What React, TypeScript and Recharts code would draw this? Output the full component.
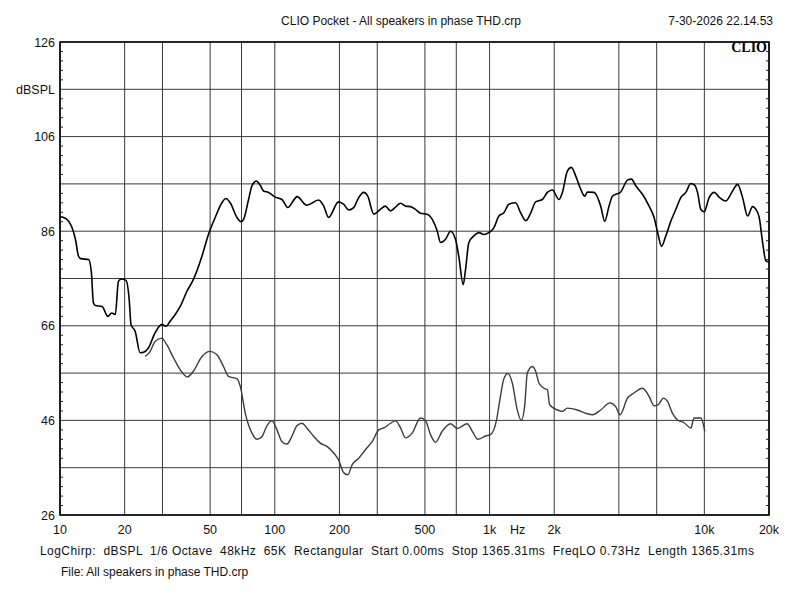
import {
  CartesianGrid,
  Line,
  LineChart,
  ReferenceArea,
  XAxis,
  YAxis,
} from "recharts";

// frequency response (Hz / dBSPL)
const mainFreq = [
  10, 10.7, 11.3, 11.8, 12.2, 12.5, 13.6, 14.0, 14.3, 14.6,
  15.7, 16.7, 17.4, 18.1, 18.7, 19.3, 20.3, 21.0, 21.4, 22.4,
  23.6, 24.5, 25.8, 27.7, 29.8, 31.2, 32.6, 34.4, 36.3, 39.0,
  41.8, 45.8, 49.1, 52.8, 56.7, 59.2, 62.0, 66.7, 69.6, 71.6,
  75.5, 78.3, 82, 85.6, 88.7, 93.6, 100.5, 108, 115, 124,
  127, 141, 160, 169, 178, 198, 209, 221, 233, 246,
  259, 271, 289, 310, 327, 346, 365, 385, 406, 428,
  452, 477, 512, 541, 571, 591, 624, 658, 694, 719,
  754, 773, 801, 845, 892, 941, 992, 1047, 1105, 1166,
  1230, 1322, 1395, 1476, 1553, 1639, 1761, 1858, 1961, 2104,
  2183, 2303, 2404, 2517, 2656, 2773, 2854, 3064, 3292, 3437,
  3599, 3733, 4080, 4385, 4577, 4793, 5151, 5530, 5834, 6090,
  6318, 6615, 6981, 7365, 7771, 8200, 8651, 9030, 9295, 9632,
  9979, 10529, 11109, 11722, 12598, 13537, 14282, 15070, 15900, 16776,
  17385, 18012, 18679, 19353, 20000,
];
const mainLevel = [
  89.1, 88.6, 87.1, 84.3, 80.7, 80.2, 80.0, 77.3, 70.9, 70.3,
  70.1, 68.0, 68.7, 68.4, 75.4, 75.9, 75.6, 71.5, 66.3, 64.8,
  60.3, 60.4, 61.3, 64.5, 66.3, 65.9, 67.0, 68.4, 70.1, 73.3,
  75.8, 80.7, 85.3, 88.9, 92.0, 92.9, 92.0, 88.9, 88.0, 88.5,
  92.7, 95.6, 96.6, 95.7, 94.5, 94.2, 93.2, 92.7, 91.0, 92.9,
  93.3, 91.5, 92.6, 91.3, 88.9, 92.2, 91.7, 90.5, 91.0, 93.1,
  94.2, 93.4, 89.6, 90.6, 91.3, 90.3, 91.1, 91.9, 91.3, 91.2,
  90.6, 89.8, 89.6, 88.5, 86.0, 83.6, 84.3, 86.0, 84.3, 80.7,
  74.7, 77.9, 83.6, 85.0, 85.7, 85.3, 85.7, 86.7, 89.2, 89.9,
  91.7, 92.0, 89.9, 88.2, 89.8, 92.2, 92.7, 94.2, 94.7, 92.7,
  94.2, 98.7, 99.5, 97.7, 94.9, 93.4, 94.3, 94.2, 91.3, 88.1,
  91.3, 93.4, 94.3, 96.8, 97.0, 95.6, 93.8, 91.3, 88.9, 85.3,
  82.8, 85.0, 88.1, 90.6, 93.1, 94.2, 96.1, 95.7, 94.2, 90.6,
  90.1, 93.1, 94.2, 93.2, 92.4, 94.5, 95.9, 93.1, 89.2, 91.2,
  90.6, 88.9, 83.6, 79.7, 79.5,
];

// THD curve
const thdFreq = [
  24.9, 26.3, 27.7, 29.8, 31.4, 33.8, 36.3, 39.2, 41.8, 45.8,
  50.0, 53.8, 57.7, 60.9, 66.7, 69.1, 72.9, 78.3, 82.6, 87.2,
  92.0, 97.0, 102.4, 108, 114, 120, 127, 134, 141, 152,
  163, 175, 188, 198, 209, 219, 229, 246, 264, 284,
  305, 322, 346, 365, 385, 406, 436, 477, 503, 531,
  560, 602, 658, 707, 787, 831, 882, 958, 1011, 1078,
  1117, 1166, 1217, 1276, 1346, 1405, 1456, 1499, 1582, 1639,
  1698, 1791, 1858, 1905, 2069, 2183, 2303, 2564, 2854, 3011,
  3292, 3637, 3867, 4051, 4385, 4706, 5151, 5530, 5834, 6090,
  6454, 6736, 7109, 7501, 8049, 8651, 8962, 9632, 10053,
];
const thdLevel = [
  59.5, 60.6, 62.7, 63.4, 62.0, 59.2, 56.7, 55.2, 56.4, 59.5,
  60.6, 59.9, 57.4, 55.3, 54.8, 53.2, 47.5, 43.3, 42.0, 42.6,
  44.9, 45.9, 44.0, 41.5, 41.0, 42.6, 44.9, 45.4, 44.4, 42.6,
  41.2, 40.5, 39.1, 37.7, 35.0, 34.5, 36.6, 38.0, 39.8, 41.5,
  44.0, 44.4, 45.4, 45.9, 44.4, 42.3, 43.3, 46.5, 46.0, 43.0,
  41.4, 43.7, 45.3, 44.3, 45.3, 43.7, 42.0, 42.7, 43.0, 46.1,
  50.4, 54.8, 55.9, 53.9, 48.2, 46.0, 48.9, 56.0, 57.4, 56.4,
  53.9, 52.8, 52.5, 49.3, 48.2, 47.9, 48.6, 48.2, 47.4, 47.2,
  48.2, 49.7, 48.9, 47.2, 50.7, 51.8, 52.8, 51.1, 49.1, 49.3,
  50.7, 50.0, 47.5, 46.1, 45.5, 44.4, 46.5, 46.5, 43.7,
];

const gridFreqs = [
  10, 20, 30, 40, 50, 60, 70, 80, 90, 100,
  200, 300, 400, 500, 600, 700, 800, 900, 1000,
  2000, 3000, 4000, 5000, 6000, 7000, 8000, 9000, 10000, 20000,
];
const freqLabels: Record<number, string> = {
  10: "10", 20: "20", 50: "50", 100: "100", 200: "200", 500: "500",
  1000: "1k", 2000: "2k", 5000: "5k", 10000: "10k", 20000: "20k",
};
const dbTicks = [26, 36, 46, 56, 66, 76, 86, 96, 106, 116, 126];
const dbLabels: Record<number, string> = {
  126: "126", 116: "dBSPL", 106: "106", 86: "86", 66: "66", 46: "46", 26: "26",
};
const minorDbTicks = [
  28, 30, 32, 34, 38, 40, 42, 44, 48, 50, 52, 54, 58, 60, 62, 64,
  68, 70, 72, 74, 78, 80, 82, 84, 88, 90, 92, 94, 98, 100, 102, 104,
  108, 110, 112, 114, 118, 120, 122, 124,
];

const mainData = mainFreq.map((f, i) => ({ f, db: mainLevel[i] }));
const thdData = thdFreq.map((f, i) => ({ f, db: thdLevel[i] }));

const FONT = "'Liberation Sans', Arial, sans-serif";

const XTick = (props: any) => {
  const { x, y, payload } = props;
  const label = freqLabels[payload.value];
  if (!label) return <g />;
  return (
    <g>
      <text x={x} y={y + 19} textAnchor="middle" fontFamily={FONT} fontSize={12.5} fill="#111">
        {label}
      </text>
      {payload.value === 1000 && (
        <text x={x + 28} y={y + 19} textAnchor="middle" fontFamily={FONT} fontSize={12.5} fill="#111">
          Hz
        </text>
      )}
    </g>
  );
};

const YTick = (props: any) => {
  const { x, y, payload } = props;
  const label = dbLabels[payload.value];
  if (!label) return <g />;
  return (
    <text x={x} y={y + 4.5} textAnchor="end" fontFamily={FONT} fontSize={12.5} fill="#111">
      {label}
    </text>
  );
};

const NoLabel = () => <g />;

export default function App() {
  return (
    <div style={{ position: "absolute", left: 0, top: 0, width: 800, height: 600, background: "#fff" }}>
      <LineChart width={800} height={600} margin={{ top: 42, right: 31, bottom: 55, left: 0 }}>
        <CartesianGrid stroke="#3a3a3a" strokeWidth={1} />
        <XAxis
          dataKey="f"
          type="number"
          scale="log"
          domain={[10, 20000]}
          ticks={gridFreqs}
          allowDataOverflow
          height={30}
          axisLine={false}
          tickLine={false}
          tickSize={0}
          tickMargin={0}
          tick={<XTick />}
        />
        <YAxis
          type="number"
          domain={[26, 126]}
          ticks={dbTicks}
          allowDataOverflow
          width={60}
          axisLine={false}
          tickLine={false}
          tickSize={0}
          tickMargin={5}
          tick={<YTick />}
        />
        {/* 2 dB minor ticks inside the left and right frame */}
        <YAxis
          yAxisId="minorL"
          orientation="left"
          mirror
          type="number"
          domain={[26, 126]}
          ticks={minorDbTicks}
          interval={0}
          allowDataOverflow
          axisLine={false}
          tick={<NoLabel />}
          tickSize={3}
          tickLine={{ stroke: "#222" }}
        />
        <YAxis
          yAxisId="minorR"
          orientation="right"
          mirror
          type="number"
          domain={[26, 126]}
          ticks={minorDbTicks}
          interval={0}
          allowDataOverflow
          axisLine={false}
          tick={<NoLabel />}
          tickSize={3}
          tickLine={{ stroke: "#222" }}
        />
        <ReferenceArea x1={10} x2={20000} y1={26} y2={126} fill="none" stroke="#000" strokeWidth={1.6} ifOverflow="visible" />
        {/* invisible series so the tick-only axes get drawn */}
        <Line yAxisId="minorL" data={thdData} dataKey="db" stroke="none" dot={false} activeDot={false} isAnimationActive={false} />
        <Line yAxisId="minorR" data={thdData} dataKey="db" stroke="none" dot={false} activeDot={false} isAnimationActive={false} />
        <Line
          data={thdData}
          dataKey="db"
          type="monotone"
          stroke="#3c3c3c"
          strokeWidth={1.4}
          dot={false}
          isAnimationActive={false}
        />
        <Line
          data={mainData}
          dataKey="db"
          type="monotone"
          stroke="#000"
          strokeWidth={1.6}
          dot={false}
          isAnimationActive={false}
        />
      </LineChart>
      <svg
        width={800}
        height={600}
        style={{ position: "absolute", left: 0, top: 0, pointerEvents: "none" }}
        fontFamily={FONT}
        fontSize={12}
        fill="#111"
      >
        <text x={401} y={25} textAnchor="middle">CLIO Pocket - All speakers in phase THD.crp</text>
        <text x={773} y={25} textAnchor="end">7-30-2026 22.14.53</text>
        <text x={767} y={52} textAnchor="end" fontFamily="'Liberation Serif', serif" fontWeight="bold" fontSize={14} fill="#000">
          CLIO
        </text>
        <text x={40} y={555} textLength={714} lengthAdjust="spacing" style={{ whiteSpace: "pre" }}>
          {"LogChirp:  dBSPL  1/6 Octave  48kHz  65K  Rectangular  Start 0.00ms  Stop 1365.31ms  FreqLO 0.73Hz  Length 1365.31ms"}
        </text>
        <text x={61} y={576}>File: All speakers in phase THD.crp</text>
      </svg>
    </div>
  );
}
